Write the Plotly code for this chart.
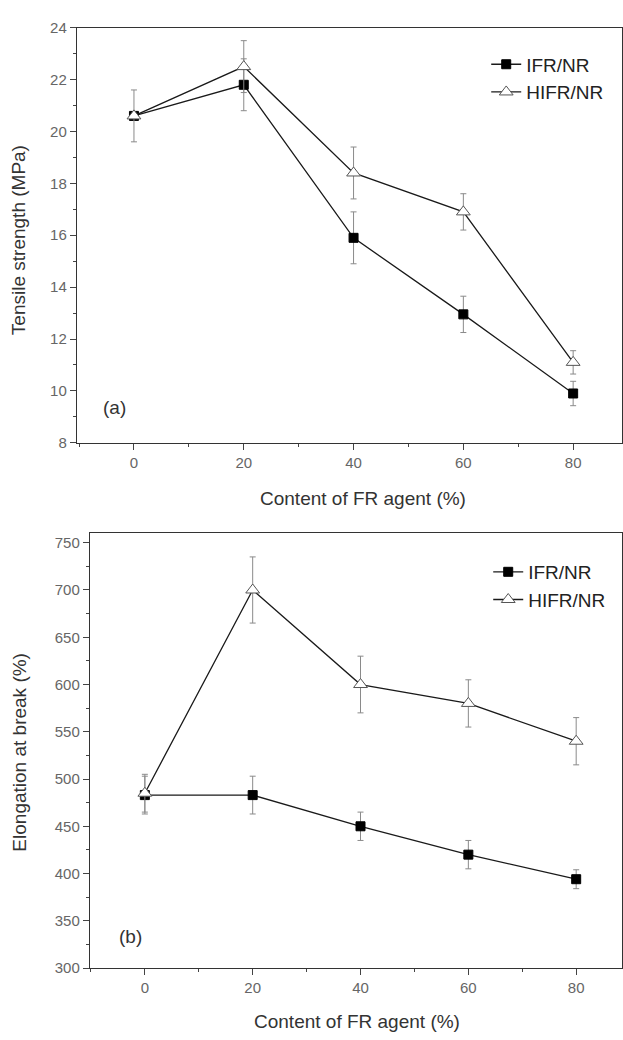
import plotly.graph_objects as go

content = [0, 20, 40, 60, 80]

# Panel (a): tensile strength (MPa)
ts_ifr = [20.6, 21.8, 15.9, 12.95, 9.9]
ts_ifr_err = [0.15, 1.0, 1.0, 0.7, 0.47]
ts_hifr = [20.6, 22.5, 18.4, 16.9, 11.1]
ts_hifr_err = [1.0, 1.0, 1.0, 0.7, 0.45]

# Panel (b): elongation at break (%)
eb_ifr = [483, 483, 450, 420, 394]
eb_ifr_err = [20, 20, 15, 15, 10]
eb_hifr = [485, 700, 600, 580, 540]
eb_hifr_err = [20, 35, 30, 25, 25]

FONT = "Liberation Sans, Arial, sans-serif"
LINE = "#1a1a1a"
ERR = "#8a8a8a"

fig = go.Figure()

def add(x, y, err, name, sym, fill, xa, ya, legend):
    fig.add_trace(go.Scatter(
        x=x, y=y, name=name, mode="lines+markers",
        xaxis=xa, yaxis=ya, legend=legend,
        line=dict(color=LINE, width=1.3),
        marker=dict(symbol=sym, size=9 if sym == "square" else 12,
                    color=fill, line=dict(color="#555555" if fill == "white" else "#000000", width=1)),
        error_y=dict(type="data", array=err, visible=True, color=ERR, thickness=1, width=3),
    ))

add(content, ts_ifr, ts_ifr_err, "IFR/NR", "square", "#000000", "x", "y", "legend")
add(content, ts_hifr, ts_hifr_err, "HIFR/NR", "triangle-up", "white", "x", "y", "legend")
add(content, eb_ifr, eb_ifr_err, "IFR/NR", "square", "#000000", "x2", "y2", "legend2")
add(content, eb_hifr, eb_hifr_err, "HIFR/NR", "triangle-up", "white", "x2", "y2", "legend2")

H = 1040.0
W = 623.0
axcommon = dict(showgrid=False, zeroline=False, showline=True, linecolor="#333333", linewidth=1.2,
                mirror=True, ticks="outside", ticklen=6, tickwidth=1, tickcolor="#444444",
                tickfont=dict(family=FONT, size=15, color="#666666"))
minor_style = dict(ticks="outside", ticklen=3, tickcolor="#444444")

fig.update_layout(
    width=623, height=1040,
    margin=dict(l=0, r=0, t=0, b=0),
    paper_bgcolor="white", plot_bgcolor="white",
    font=dict(family=FONT, color="#333333"),
    xaxis=dict(domain=[77 / W, 1], range=[-10.4, 88.9], anchor="y", tickvals=[0, 20, 40, 60, 80],
               minor=dict(dtick=10, **minor_style), **axcommon),
    yaxis=dict(domain=[1 - 441 / H, 1 - 19 / H], range=[8, 24], anchor="x", dtick=2,
               minor=dict(dtick=1, **minor_style), **axcommon),
    xaxis2=dict(domain=[90 / W, 1], range=[-10.2, 88.5], anchor="y2", tickvals=[0, 20, 40, 60, 80],
                minor=dict(dtick=10, **minor_style), **axcommon),
    yaxis2=dict(domain=[1 - 975 / H, 1 - 533 / H], range=[300, 760], anchor="x2",
                tickvals=[300, 350, 400, 450, 500, 550, 600, 650, 700, 750],
                minor=dict(dtick=25, **minor_style), **axcommon),
    legend=dict(x=487 / W, y=1 - 37 / H, xanchor="left", yanchor="top", bgcolor="rgba(0,0,0,0)",
                font=dict(family=FONT, size=19, color="#222222"), tracegroupgap=0, itemwidth=30),
    legend2=dict(x=489 / W, y=1 - 553 / H, xanchor="left", yanchor="top", bgcolor="rgba(0,0,0,0)",
                 font=dict(family=FONT, size=19, color="#222222"), tracegroupgap=0, itemwidth=30),
    showlegend=True,
)

annots = [
    dict(text="Tensile strength (MPa)", x=18 / W, y=1 - 235 / H, textangle=-90),
    dict(text="Content of FR agent (%)", x=364 / W, y=1 - 498 / H, textangle=0),
    dict(text="Elongation at break (%)", x=20 / W, y=1 - 755 / H, textangle=-90),
    dict(text="Content of FR agent (%)", x=358 / W, y=1 - 1029 / H, textangle=0),
    dict(text="(a)", x=115 / W, y=1 - 405 / H, textangle=0),
    dict(text="(b)", x=131 / W, y=1 - 943 / H, textangle=0),
]
for a in annots:
    fig.add_annotation(xref="paper", yref="paper", showarrow=False, xanchor="center", yanchor="middle",
                       font=dict(family=FONT, size=19, color="#333333"), **a)

fig.write_html("out.html")
